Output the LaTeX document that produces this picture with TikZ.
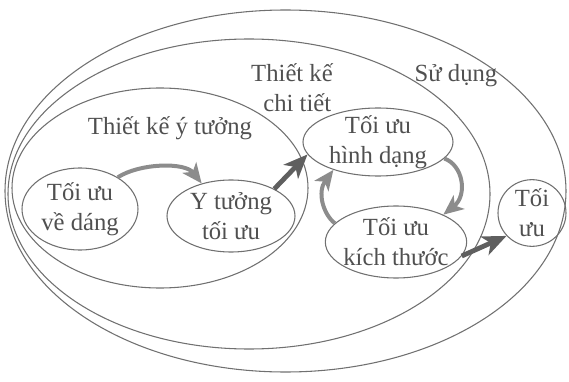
\documentclass[tikz,border=0pt]{standalone}
\usepackage{fontspec}
\setmainfont{Liberation Serif}
\usetikzlibrary{shapes.geometric,arrows.meta}
\definecolor{linegray}{RGB}{112,112,112}
\definecolor{textgray}{RGB}{80,80,80}
\definecolor{arrowdark}{RGB}{95,95,95}
\definecolor{arrowlight}{RGB}{140,140,140}

\begin{document}
\begin{tikzpicture}[x=0.75pt,y=0.75pt,yscale=-1,xscale=1,
  bubble/.style={draw=linegray, line width=0.8pt, ellipse, inner sep=-3pt, align=center, text=textgray, font=\fontsize{18.5}{22.5}\selectfont},
  stage label/.style={inner sep=0.75pt, align=center, text=textgray, font=\fontsize{18.5}{22.5}\selectfont},
  hard arrow/.style={draw=arrowdark, line width=3.6pt, -{Stealth[length=18pt,width=15pt,inset=5pt]}},
  soft arrow/.style={draw=arrowlight, line width=3pt, -{Stealth[length=15pt,width=13pt,inset=4pt]}}]
\useasboundingbox (0,0) rectangle (569,382);

%Shape: Ellipse [Su dung]
\draw [linegray, line width=0.8pt] (285.5,191) ellipse [x radius=280.5, y radius=181];
%Shape: Ellipse [Thiet ke chi tiet]
\draw [linegray, line width=0.8pt] (249,194) ellipse [x radius=241, y radius=155];
%Shape: Ellipse [Thiet ke y tuong]
\draw [linegray, line width=0.8pt] (160,188) ellipse [x radius=148, y radius=100];

% Bubble Nodes
\node [bubble, minimum width=87pt, minimum height=61.5pt] (dang) at (80,209) {Tối ưu\\về dáng};
\node [bubble, minimum width=96pt, minimum height=54pt] (ytuong) at (231,216) {Y tưởng\\tối ưu};
\node [bubble, minimum width=112.5pt, minimum height=51pt] (hinh) at (378,142) {Tối ưu\\hình dạng};
\node [bubble, minimum width=106pt, minimum height=54pt] (kich) at (396,242) {Tối ưu\\kích thước};
\node [bubble, minimum width=51pt, minimum height=50pt] (toiuu) at (532,213) {Tối\\ưu};

% Text Node
\node [stage label] (lbly) at (170,128) {Thiết kế ý tưởng};
% Text Node
\node [stage label] (lblct) at (292,88) {Thiết kế\\\hspace*{8pt}chi tiết};
% Text Node
\node [stage label] (lblsd) at (456,76) {Sử dụng};

%Curve Lines
\draw [soft arrow] (dang.40) .. controls (140,163) and (185,162) .. (ytuong.132);
%Straight Lines
\draw [hard arrow] (ytuong.32) -- (hinh.190);
%Curve Lines
\draw [soft arrow] (hinh.-14) .. controls (463,165) and (468,195) .. (kich.30);
%Curve Lines
\draw [soft arrow] (kich.163) .. controls (323,214) and (317,192) .. (hinh.212);
%Straight Lines
\draw [hard arrow] (kich.-12) -- (toiuu.222);

\end{tikzpicture}
\end{document}
